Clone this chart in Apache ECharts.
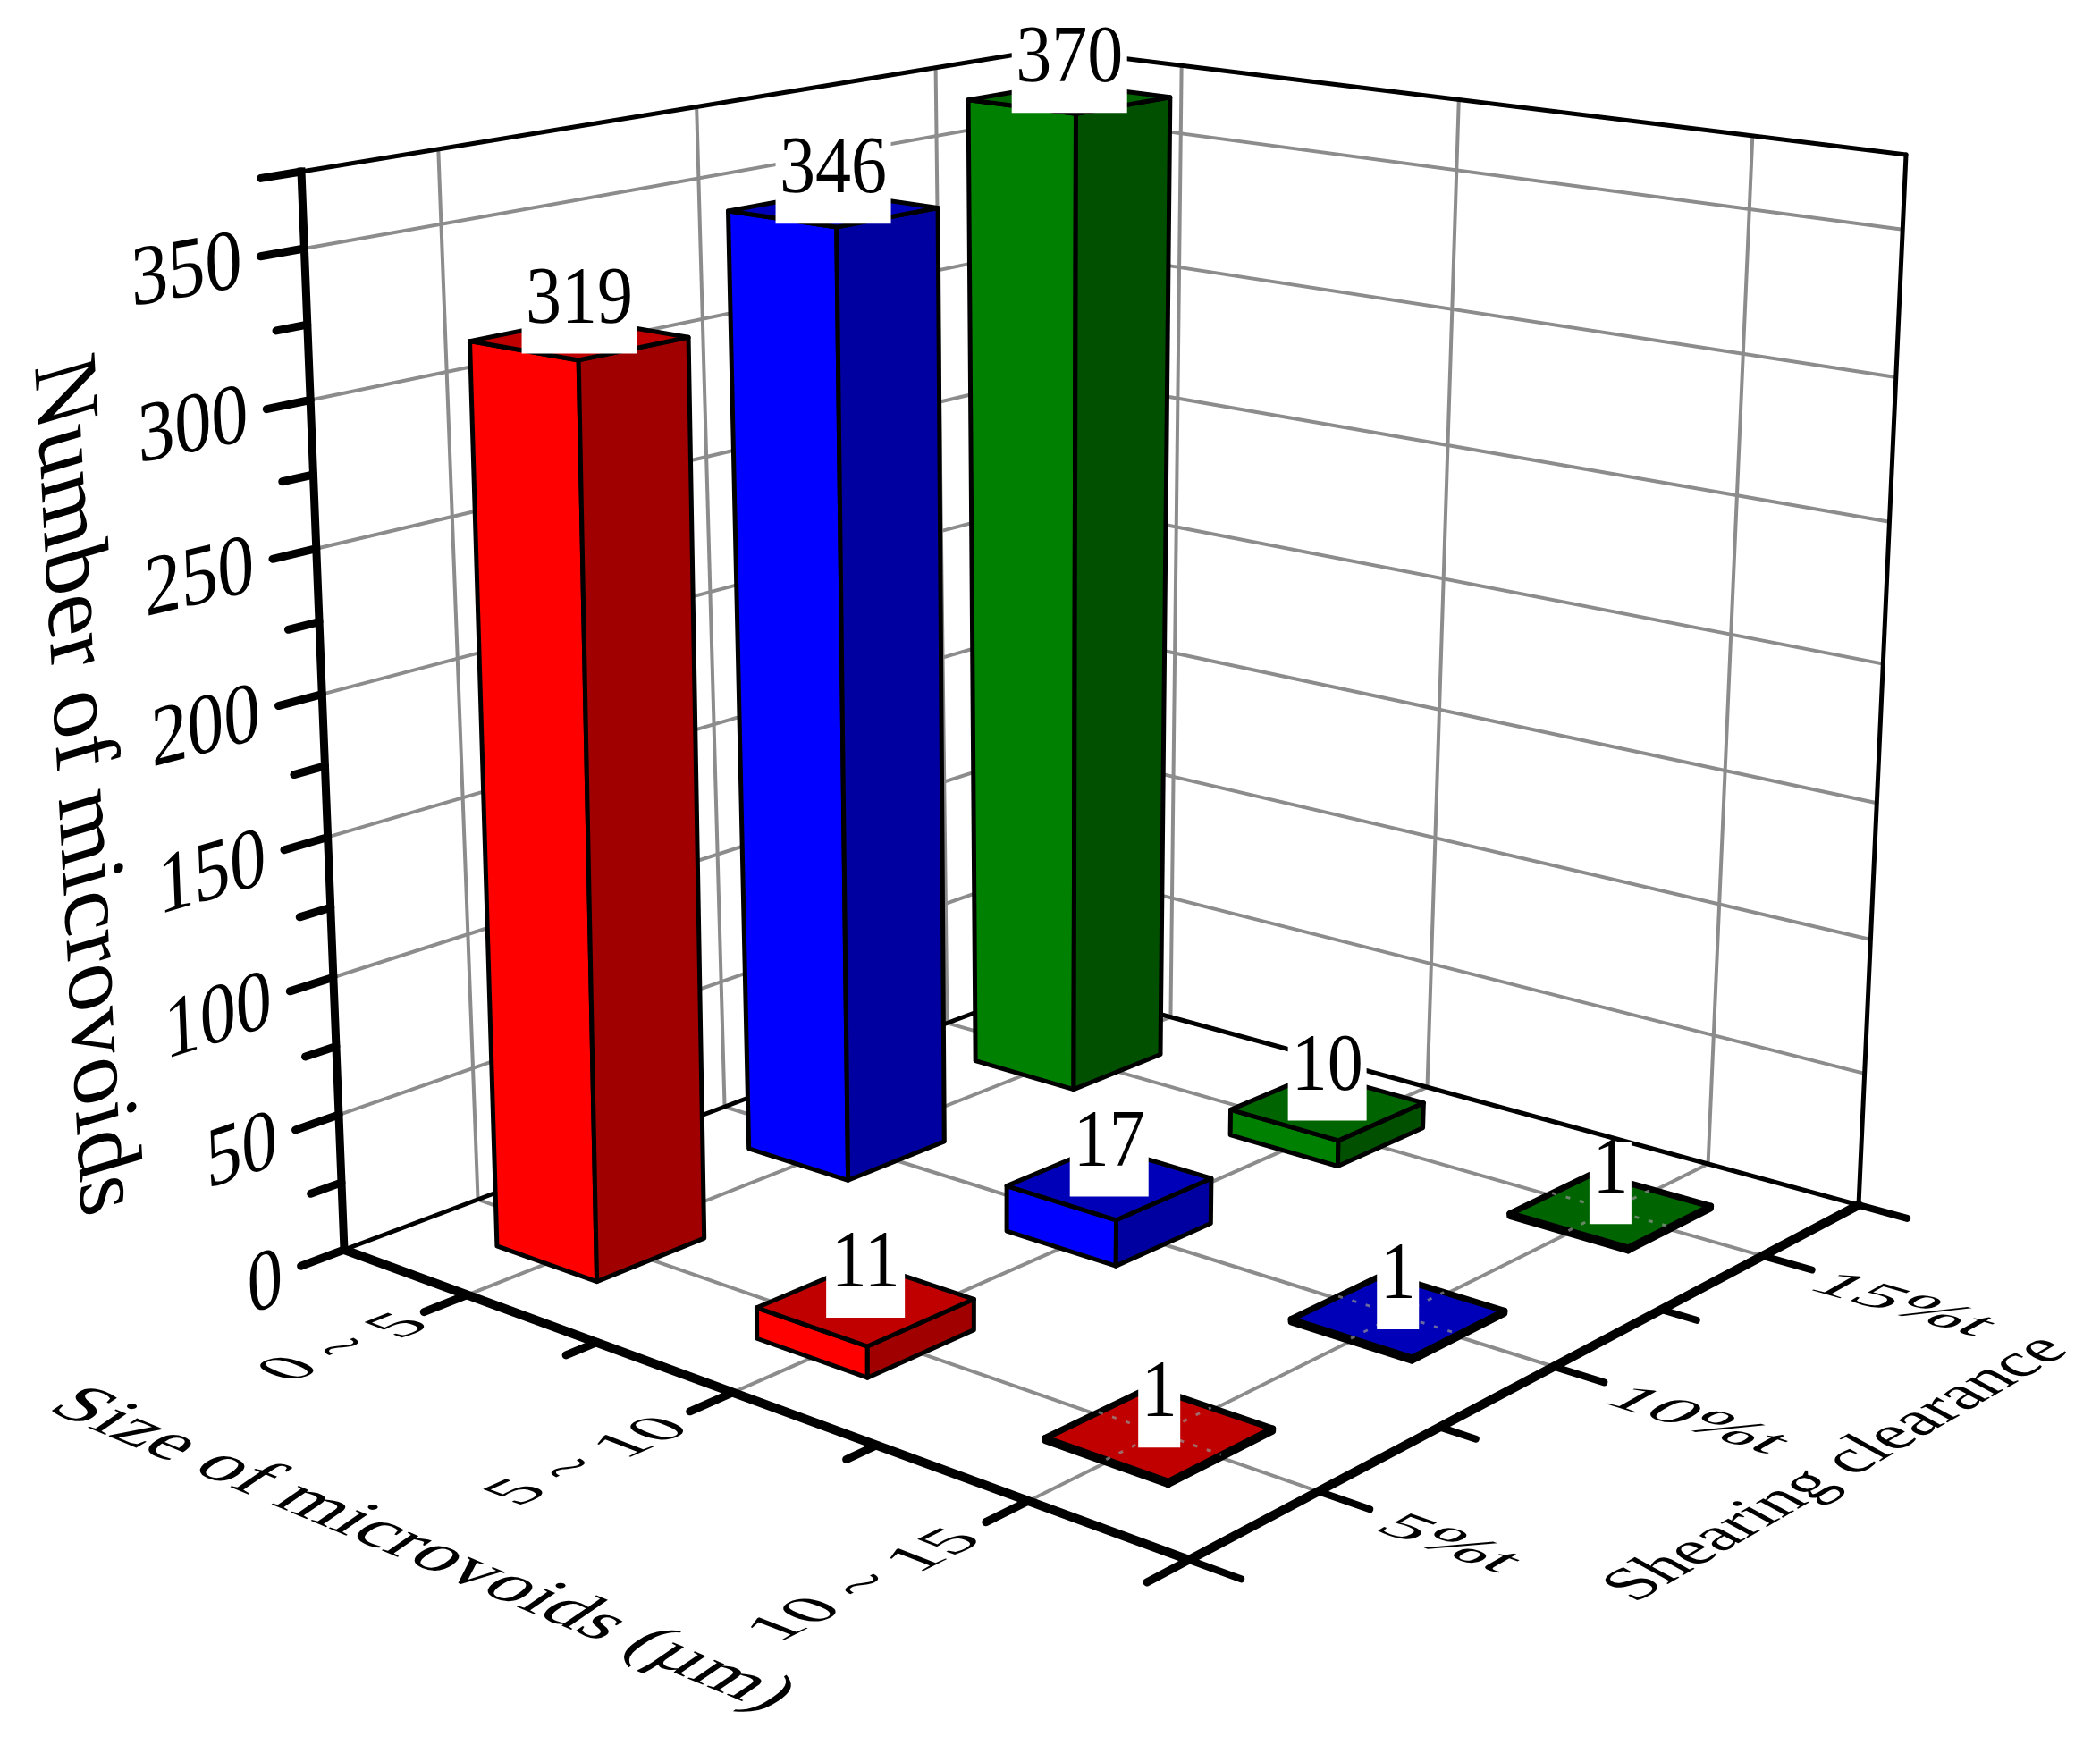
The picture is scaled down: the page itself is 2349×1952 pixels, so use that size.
<!DOCTYPE html>
<html>
<head>
<meta charset="utf-8">
<script src="https://cdn.jsdelivr.net/npm/echarts@6/dist/echarts.min.js"></script>
<style>html,body{margin:0;padding:0;background:#fff}#c{width:2349px;height:1952px}</style>
</head>
<body>
<div id="c"></div>
<script>
// ---------- data ----------
const sizeCategories = ['0 ~ 5', '5 ~ 10', '10 ~ 15'];
const shearCategories = ['5%t', '10%t', '15%t'];
const valuesShear5 = [319, 11, 1];
const valuesShear10 = [346, 17, 1];
const valuesShear15 = [370, 10, 1];
const valueTickLabels = [0, 50, 100, 150, 200, 250, 300, 350];
const valueMinorTicks = [25, 75, 125, 175, 225, 275, 325, 375];
const valueMax = 375;
const titleValue = 'Number of microvoids';
const titleSize = 'Size of microvoids (\u00b5m)';
const titleShear = 'Shearing clearance';

// ---------- styles and perspective frame (page pixels of the box corners) ----------
const SERIF = '"Liberation Serif","Times New Roman",serif';
const faceColors = [
  {left:'#ff0000', right:'#a00000', top:'#c00000'},
  {left:'#0000ff', right:'#0000a0', top:'#0000b8'},
  {left:'#008000', right:'#005000', top:'#006400'}
];
const BOX = 1000;
const floorQuad = [[385,1398],[1330,1745],[2079,1348],[1175,1101]];
const topQuad = [[337,192],[1340,340],[2132,173],[1173,55]];
const GAMMA = 0.93;
const BAR_HALF_U = 0.066, BAR_HALF_V = 0.069;
const sizeLabelNudge = [[16,-4],[-9,7],[-33,16]];
const shearLabelNudge = [[-2,4],[15,12],[15,12]];

function quadMap(q){
  const [x0,y0]=q[0],[x1,y1]=q[1],[x2,y2]=q[2],[x3,y3]=q[3];
  const dx1=x1-x2,dx2=x3-x2,sx=x0-x1+x2-x3,dy1=y1-y2,dy2=y3-y2,sy=y0-y1+y2-y3;
  const den=dx1*dy2-dx2*dy1;
  const g=(sx*dy2-dx2*sy)/den,h=(dx1*sy-sx*dy1)/den;
  const a=x1-x0+g*x1,b=x3-x0+h*x3,d=y1-y0+g*y1,e=y3-y0+h*y3;
  return (u,v)=>{const n=g*u+h*v+1;return [(a*u+b*v+x0)/n,(d*u+e*v+y0)/n];};
}
const floorMap=quadMap(floorQuad), topMap=quadMap(topQuad);
function P(u,v,w){
  const a=floorMap(u,v), b=topMap(u,v), t=GAMMA*w/(1-w+GAMMA*w);
  return [a[0]+(b[0]-a[0])*t, a[1]+(b[1]-a[1])*t];
}
function unit(a,b){const dx=b[0]-a[0],dy=b[1]-a[1],l=Math.hypot(dx,dy);return [dx/l,dy/l];}

// text placed in a plane: baseline vector b and downward-glyph vector d per font pixel
function planeText(text,pos,b,d,font,align){
  const th=Math.atan2(-b[1],b[0]), c=Math.cos(th), s=Math.sin(th);
  const dx=d[0]*c-d[1]*s, dy=d[0]*s+d[1]*c;
  return {type:'text',x:pos[0],y:pos[1],rotation:th,scaleX:Math.hypot(b[0],b[1]),scaleY:dy,skewX:Math.atan(dx/dy),silent:true,
    style:{text:String(text),font:font,fill:'#000',textAlign:align||'center',textVerticalAlign:'middle'}};
}
function ln(a,b,color,width,cap,dash){
  const st={stroke:color,lineWidth:width,lineCap:cap||'butt'};
  if(dash) st.lineDash=dash;
  return {type:'line',silent:true,shape:{x1:a[0],y1:a[1],x2:b[0],y2:b[1]},style:st};
}

// ---------- frame ----------
function renderFrame(params,api){
  const uAt=i=>api.coord([i,0])[0]/BOX;
  const wAt=val=>1-api.coord([0,val])[1]/BOX;
  const ch=[], GR='#8c8c8c', GW=4;
  const bands=[0,1,2].map(uAt);
  const mids=[(bands[0]+bands[1])/2,(bands[1]+bands[2])/2];
  // walls and floor grid
  bands.forEach(t=>{
    ch.push(ln(P(0,t,0),P(0,t,1),GR,GW));
    ch.push(ln(P(t,1,0),P(t,1,1),GR,GW));
    ch.push(ln(P(t,0,0),P(t,1,0),GR,GW));
    ch.push(ln(P(0,t,0),P(1,t,0),GR,GW));
  });
  valueTickLabels.slice(1).forEach(val=>{
    const w=wAt(val);
    ch.push(ln(P(0,0,w),P(0,1,w),GR,GW));
    ch.push(ln(P(0,1,w),P(1,1,w),GR,GW));
  });
  // box edges
  [[[0,0,1],[0,1,1]],[[0,1,1],[1,1,1]],[[1,1,1],[1,1,0]],[[1,1,0],[0,1,0]],[[0,1,0],[0,0,0]],[[0,1,0],[0,1,1]]]
    .forEach(e=>ch.push(ln(P(...e[0]),P(...e[1]),'#000',5,'round')));
  // main axes
  ch.push(ln(P(0,0,0),P(0,0,1),'#000',9,'square'));
  ch.push(ln(P(0,0,0),P(1,0,0),'#000',10,'round'));
  ch.push(ln(P(1,0,0),P(1,1,0),'#000',10,'round'));
  // ticks
  const TK=0.052, MN=0.037;
  valueTickLabels.forEach(val=>{const w=wAt(val);ch.push(ln(P(0,0,w),P(0,-TK,w),'#000',9,'round'));});
  valueMinorTicks.forEach(val=>{const w=wAt(val);ch.push(ln(P(0,0,w),P(0,val===valueMax?-0.048:-MN,w),'#000',9,'round'));});
  [1].concat(bands).forEach(t=>ch.push(ln(P(t,0,0),P(t,-TK,0),'#000',9,'round')));
  mids.forEach(t=>ch.push(ln(P(t,0,0),P(t,-MN,0),'#000',9,'round')));
  [0,1].concat(bands).forEach(t=>ch.push(ln(P(1,t,0),P(1+TK,t,0),'#000',8,'round')));
  mids.forEach(t=>ch.push(ln(P(1,t,0),P(1+MN,t,0),'#000',8,'round')));

  // value tick labels in the wall plane
  valueTickLabels.forEach(val=>{
    const w=wAt(val), p=P(0,-0.082,w);
    const b=unit(P(0,-0.1,w),P(0,0,w));
    const d=unit(P(0,-0.08,Math.min(w+0.02,1)),P(0,-0.08,Math.max(w-0.02,0)));
    ch.push(planeText(val,[p[0]+8,p[1]+(val===0?4:3)],[b[0]*1.05,b[1]*1.05],[d[0]*1.2,d[1]*1.2],'80px '+SERIF,'right'));
  });
  // size tick labels in the floor plane
  sizeCategories.forEach((s,i)=>{
    const t=uAt(i), p=P(t+0.005,-0.165,0);
    const b=unit(P(t,-0.3,0),P(t,0,0));
    const up=unit(P(t,-0.15,0),P(t-0.1,-0.15,0));
    ch.push(planeText(s,[p[0]+sizeLabelNudge[i][0],p[1]+sizeLabelNudge[i][1]],[b[0]*1.42,b[1]*1.42],[-up[0]*1.2,-up[1]*1.2],'60px '+SERIF));
  });
  // shearing tick labels in the floor plane
  shearCategories.forEach((s,i)=>{
    const t=uAt(i), p=P(1.135,t-0.005,0);
    const b=unit(P(1,t,0),P(1.2,t,0));
    const up=unit(P(1.13,t,0),P(1.13,t+0.1,0));
    ch.push(planeText(s,[p[0]+shearLabelNudge[i][0],p[1]+shearLabelNudge[i][1]],[b[0]*1.55,b[1]*1.55],[-up[0]*1.05,-up[1]*1.05],'60px '+SERIF));
  });
  // axis titles
  ch.push(planeText(titleValue,[92,880],[0.055,0.998],[-0.96,0.28],'105px '+SERIF));
  ch.push(planeText(titleSize,[472,1734],[0.92*1.49,0.385*1.49],[-1.1,0.75],'60px '+SERIF));
  ch.push(planeText(titleShear,[2055,1643],[0.865*1.24,-0.50*1.24],[1.1,0.6],'60px '+SERIF));
  return {type:'group',children:ch};
}

// ---------- bars ----------
function renderBar(params,api){
  const i=api.value(0), val=api.value(1), j=api.value(2);
  const uc=api.coord([i,0])[0]/BOX, vc=api.coord([j,0])[0]/BOX, w=1-api.coord([0,val])[1]/BOX;
  const u0=uc-BAR_HALF_U,u1=uc+BAR_HALF_U,v0=vc-BAR_HALF_V,v1=vc+BAR_HALF_V;
  const col=faceColors[j];
  const poly=(pts,fill)=>({type:'polygon',silent:true,shape:{points:pts},
    style:{fill:fill,stroke:'#000',lineWidth:val<5?7:5,lineJoin:'round'}});
  const ch=[
    poly([P(u0,v0,0),P(u1,v0,0),P(u1,v0,w),P(u0,v0,w)],col.left),
    poly([P(u1,v0,0),P(u1,v1,0),P(u1,v1,w),P(u1,v0,w)],col.right),
    poly([P(u0,v0,w),P(u1,v0,w),P(u1,v1,w),P(u0,v1,w)],col.top)
  ];
  if(val<5){
    ch.push(ln(P(u0,vc,w),P(u1,vc,w),'rgba(150,150,150,0.7)',3,'butt',[5,11]));
    ch.push(ln(P(uc,v0,w),P(uc,v1,w),'rgba(150,150,150,0.7)',3,'butt',[5,11]));
  }
  return {type:'group',children:ch};
}
function renderLabel(params,api){
  const i=api.value(0), val=api.value(1), j=api.value(2);
  const uc=api.coord([i,0])[0]/BOX, vc=api.coord([j,0])[0]/BOX, w=1-api.coord([0,val])[1]/BOX;
  const c=P(uc,vc,w), txt=String(val), bw=txt.length*41+6;
  return {type:'group',children:[
    {type:'rect',silent:true,shape:{x:c[0]-bw/2,y:c[1]-76,width:bw,height:92},style:{fill:'#fff'}},
    {type:'text',silent:true,x:c[0],y:c[1]-43,scaleY:1.15,style:{text:txt,font:'80px '+SERIF,fill:'#000',textAlign:'center',textVerticalAlign:'middle'}}
  ]};
}

const barData=[];
[valuesShear5,valuesShear10,valuesShear15].forEach((vals,j)=>vals.forEach((val,i)=>barData.push([i,val,j])));
barData.sort((a,b)=>a[0]-b[0]||b[2]-a[2]);

const chart=echarts.init(document.getElementById('c'),null,{renderer:'canvas'});
chart.setOption({
  animation:false,
  backgroundColor:'#fff',
  grid:{left:0,top:0,width:BOX,height:BOX,show:false},
  xAxis:{type:'category',data:sizeCategories,show:false,boundaryGap:true},
  yAxis:{type:'value',min:0,max:valueMax,interval:25,show:false},
  series:[
    {type:'custom',name:'frame',z:1,clip:false,data:[[0,0,0]],renderItem:renderFrame,encode:{x:0,y:1}},
    {type:'custom',name:'bars',z:2,clip:false,data:barData,dimensions:['size','count','shear'],renderItem:renderBar,encode:{x:0,y:1}},
    {type:'custom',name:'labels',z:3,clip:false,data:barData,dimensions:['size','count','shear'],renderItem:renderLabel,encode:{x:0,y:1}}
  ]
});
</script>
</body>
</html>
